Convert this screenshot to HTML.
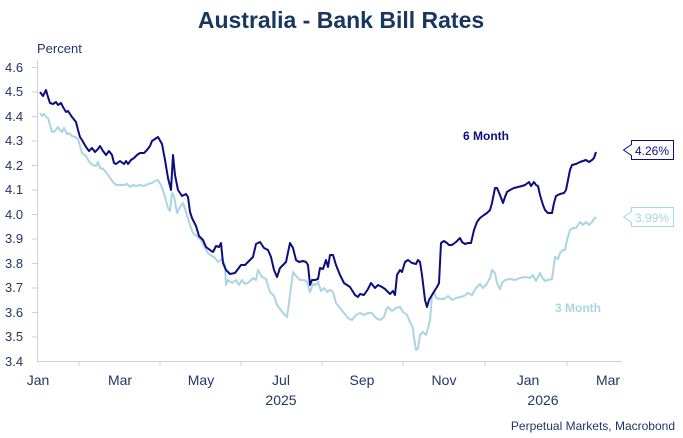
<!DOCTYPE html><html><head><style>body{margin:0;background:#fff}svg{display:block}text{font-family:"Liberation Sans",sans-serif}</style></head><body>
<svg width="683" height="438" viewBox="0 0 683 438">
<text x="341" y="28" text-anchor="middle" font-size="23" font-weight="bold" fill="#17375e">Australia - Bank Bill Rates</text>
<text x="37" y="53" font-size="13" fill="#1f3864">Percent</text>
<g font-size="13" fill="#1f3864" text-anchor="start">
<text x="5" y="72">4.6</text><text x="5" y="96">4.5</text><text x="5" y="121">4.4</text><text x="5" y="145">4.3</text><text x="5" y="170">4.2</text><text x="5" y="194">4.1</text><text x="5" y="219">4.0</text><text x="5" y="243">3.9</text><text x="5" y="268">3.8</text><text x="5" y="292">3.7</text><text x="5" y="317">3.6</text><text x="5" y="341">3.5</text><text x="5" y="366">3.4</text></g>
<g stroke="#d0d0d0" stroke-width="1"><line x1="37.5" y1="60" x2="37.5" y2="361"/><line x1="37" y1="361.5" x2="622" y2="361.5"/>
<line x1="32" y1="67.5" x2="37" y2="67.5"/><line x1="32" y1="92" x2="37" y2="92"/><line x1="32" y1="116.5" x2="37" y2="116.5"/><line x1="32" y1="141" x2="37" y2="141"/><line x1="32" y1="165.5" x2="37" y2="165.5"/><line x1="32" y1="190" x2="37" y2="190"/><line x1="32" y1="214.5" x2="37" y2="214.5"/><line x1="32" y1="239" x2="37" y2="239"/><line x1="32" y1="263.5" x2="37" y2="263.5"/><line x1="32" y1="288" x2="37" y2="288"/><line x1="32" y1="312.5" x2="37" y2="312.5"/><line x1="32" y1="337" x2="37" y2="337"/>
<line x1="79" y1="361" x2="79" y2="366"/><line x1="160" y1="361" x2="160" y2="366"/><line x1="241" y1="361" x2="241" y2="366"/><line x1="322" y1="361" x2="322" y2="366"/><line x1="403" y1="361" x2="403" y2="366"/><line x1="485" y1="361" x2="485" y2="366"/><line x1="567" y1="361" x2="567" y2="366"/></g>
<g font-size="14" fill="#1f3864" text-anchor="middle">
<text x="38" y="385">Jan</text><text x="120" y="385">Mar</text><text x="201" y="385">May</text><text x="281" y="385">Jul</text><text x="362" y="385">Sep</text><text x="444" y="385">Nov</text><text x="528" y="385">Jan</text><text x="608" y="385">Mar</text>
<text x="281" y="405">2025</text><text x="543" y="405">2026</text></g>
<text x="675" y="430" font-size="12" fill="#1f3864" text-anchor="end">Perpetual Markets, Macrobond</text>
<polyline fill="none" stroke="#a9d5e4" stroke-width="2" stroke-linejoin="round" points="40,113 42,116 44,114 46,117 48,118 50,125 52,132 55,131 58,127 60,130 62,132 64,128 67,134 69,133 72,136 75,137 78,139 80,146 82,153 86,156 90,163 93,165 96,166 98,162 100,168 103,169 106,172 110,178 113,182 116,185 120,185 124,185 127,184 130,187 133,185 136,186 140,185 144,186 148,184 152,183 155,181 158,180 162,187 165,197 168,208 170,211 172,193 174,196 177,213 180,207 183,203 186,212 190,225 193,233 197,236 201,240 205,248 208,253 212,256 215,258 218,262 222,259 225,265 226,285 228,280 232,283 236,280 239,285 242,280 245,284 249,282 253,278 256,280 258,270 262,277 266,279 270,292 274,296 277,305 280,309 283,313 287,317 290,295 293,272 296,276 300,280 304,280 307,282 310,292 313,284 316,285 318,282 321,291 324,288 327,292 330,290 333,292 336,303 340,308 344,313 348,318 352,320 356,315 360,313 364,315 368,313 372,313 376,318 380,320 384,317 386,310 388,307 392,311 396,308 400,307 403,312 407,315 410,322 413,328 414,338 416,350 418,348 420,335 423,332 426,335 428,328 430,320 432,295 434,292 436,298 440,299 444,299 448,296 452,300 456,298 460,297 464,296 468,293 472,295 476,288 480,284 483,288 486,285 490,278 492,270 495,273 497,283 500,289 502,283 505,280 510,279 515,280 520,278 525,277 530,278 533,275 536,281 538,277 540,273 542,277 545,281 548,280 552,279 555,257 558,259 560,253 563,250 565,250 567,240 570,230 573,228 576,228 580,222 583,225 586,222 589,225 592,222 594,219 596,217"/>
<polyline fill="none" stroke="#0d0d80" stroke-width="2" stroke-linejoin="round" points="40,92 43,96 46,90 48,97 50,103 53,104 56,102 58,105 61,103 63,107 66,112 68,111 72,117 76,122 78,130 80,137 82,140 86,147 89,151 92,148 95,152 98,149 100,146 103,151 106,155 109,151 112,155 114,163 116,164 120,161 124,164 126,161 128,164 131,160 134,158 137,155 140,153 144,153 147,150 150,146 152,141 155,139 158,137 162,144 165,160 168,178 171,190 173,155 175,175 178,190 182,196 186,194 188,197 190,212 192,218 196,226 199,236 203,240 206,247 210,250 213,252 216,246 219,247 221,243 223,263 226,270 230,274 235,273 238,269 241,265 245,265 248,262 253,257 256,244 260,242 264,248 268,250 271,257 274,270 277,277 280,268 283,265 286,262 290,243 293,248 296,260 299,262 303,261 306,262 308,265 310,285 312,280 315,280 318,279 320,268 323,269 326,260 328,267 330,255 333,255 336,265 340,275 344,283 350,287 355,295 358,297 360,294 364,295 368,289 371,283 375,288 378,285 382,287 385,289 388,292 390,294 393,291 395,295 397,275 400,270 402,272 405,262 408,260 412,263 416,264 418,260 420,262 422,275 425,300 427,307 429,300 432,295 435,290 437,287 439,283 441,243 444,241 447,243 449,245 452,245 456,242 460,238 462,242 465,244 468,243 471,243 474,230 477,222 480,218 484,215 487,213 490,210 492,203 495,188 497,188 500,195 503,203 505,197 507,192 510,190 514,188 518,187 522,186 525,185 529,182 531,186 534,182 536,185 538,186 540,195 543,205 545,210 548,213 552,213 554,203 556,196 560,194 564,193 566,190 570,170 572,165 576,164 580,162 583,161 586,160 589,162 592,160 594,158 596,152"/>
<text x="486" y="140" font-size="12" font-weight="bold" fill="#0d0d80" text-anchor="middle">6 Month</text>
<text x="578" y="312" font-size="12" font-weight="bold" fill="#a9d5e4" text-anchor="middle">3 Month</text>
<path d="M623.5,150 L631.5,144.5 L631.5,140.5 L673.5,140.5 L673.5,159.5 L631.5,159.5 L631.5,155.5 Z" fill="#fff" stroke="#0d0d80"/>
<text x="652" y="155" font-size="12" fill="#0d0d80" text-anchor="middle">4.26%</text>
<path d="M623.5,217 L631.5,211.5 L631.5,207.5 L673.5,207.5 L673.5,226.5 L631.5,226.5 L631.5,222.5 Z" fill="#fff" stroke="#a9d5e4"/>
<text x="652" y="222" font-size="12" fill="#a9d5e4" text-anchor="middle">3.99%</text>
</svg></body></html>
